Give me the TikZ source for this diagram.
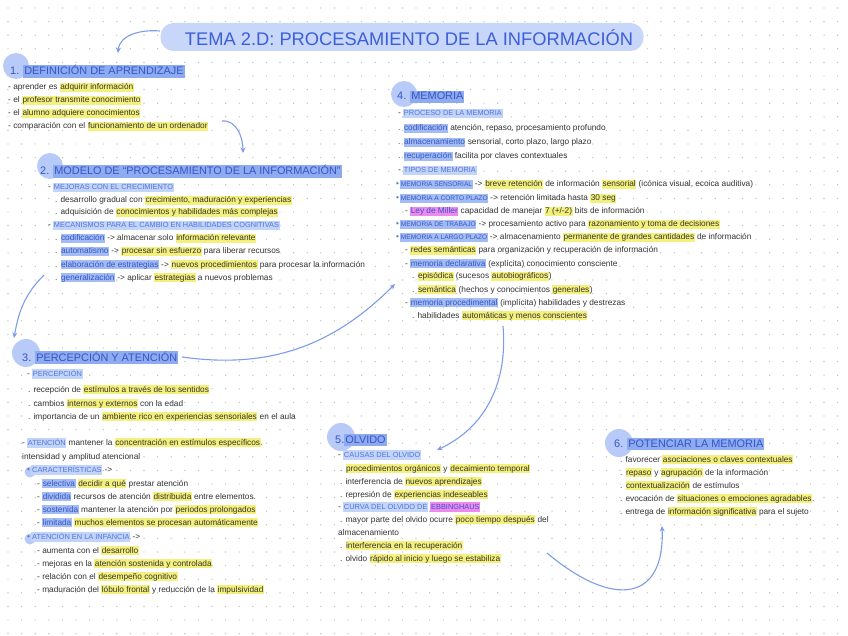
\documentclass[tikz,border=0pt]{standalone}
\usepackage{fontspec}
\setmainfont{Liberation Sans}
\usetikzlibrary{arrows.meta}
\definecolor{hly}{HTML}{F4F07C}
\definecolor{hlb}{HTML}{8FABF0}
\definecolor{hls}{HTML}{C3D4F9}
\definecolor{hlk}{HTML}{A3BCF3}
\definecolor{hlp}{HTML}{EE8AEE}
\definecolor{bodyc}{HTML}{333333}
\definecolor{hdrc}{HTML}{3555C8}
\definecolor{subc}{HTML}{5275DD}
\definecolor{circc}{HTML}{B8CAF7}
\definecolor{titlebg}{HTML}{C7D6F9}
\definecolor{titlec}{HTML}{3C5FD8}
\definecolor{arrc}{HTML}{7D9DE8}
\definecolor{dotc}{HTML}{BDBDBD}
\newcommand\hstr{\rule[-1.8pt]{0pt}{8pt}}
\newcommand\hy[1]{{\setlength{\fboxsep}{0.5pt}\colorbox{hly}{\hstr#1}}}
\newcommand\hk[1]{{\setlength{\fboxsep}{0.5pt}\colorbox{hlk}{\hstr\textcolor{hdrc}{#1}}}}
\newcommand\hkc[1]{{\setlength{\fboxsep}{0.5pt}\colorbox{hlk}{\hstr\fontsize{6.6}{8}\selectfont\textcolor{hdrc}{#1}}}}
\newcommand\hp[1]{{\setlength{\fboxsep}{0.5pt}\colorbox{hlp}{\hstr\textcolor{hdrc}{#1}}}}
\newcommand\hs[1]{{\setlength{\fboxsep}{0.7pt}\colorbox{hls}{\hstr\fontsize{7.4}{8}\selectfont\textcolor{subc}{#1}}}}
\newcommand\hpc[1]{{\setlength{\fboxsep}{0.7pt}\colorbox{hlp}{\hstr\fontsize{7.4}{8}\selectfont\textcolor{hdrc}{#1}}}}
\newcommand\hb[1]{{\setlength{\fboxsep}{1pt}\colorbox{hlb}{\rule[-2.3pt]{0pt}{10.5pt}#1}}}
\newcommand\bd{\textcolor{subc}{\textbullet}}
\newcommand\TL[4]{\node[txt] (#1) at (#2,#3) {#4};}
\newcommand\HD[4]{\node[hdr] (#1) at (#2,#3) {#4};}
\tikzset{
  txt/.style={anchor=base west, inner sep=0pt, text=bodyc, font=\fontsize{8.3}{10}\selectfont},
  hdr/.style={anchor=base west, inner sep=0pt, text=hdrc, font=\fontsize{10.9}{12}\selectfont},
  circ/.style={fill=circc, draw=none},
  conn/.style={draw=arrc, line width=1.1pt, -{Stealth[length=5.5pt,width=5pt]}}
}
\begin{document}
\begin{tikzpicture}[x=1pt,y=-1pt]
\useasboundingbox (0,0) rectangle (848,636);
\fill[white] (0,0) rectangle (848,636);
\foreach \i in {0,...,62}{\foreach \j in {0,...,46}{\fill[dotc] ({8+13.6*\i},{8+13.6*\j}) circle (0.7pt);}}
% title
\node[fill=titlebg, rounded corners=13pt, minimum width=483pt, minimum height=28pt, inner sep=0pt] (title) at (402,37) {};
\node[text=titlec, font=\fontsize{18.3}{20}\selectfont] (ttext) at (409,38) {TEMA 2.D: PROCESAMIENTO DE LA INFORMACIÓN};
% section 1
\fill[circ] (16,66) circle (13pt);
\HD{h1}{10}{75}{1. \hb{DEFINICIÓN DE APRENDIZAJE}}
\TL{a1}{8}{90}{- aprender es \hy{adquirir información}}
\TL{a2}{8}{103}{- el \hy{profesor transmite conocimiento}}
\TL{a3}{8}{116}{- el \hy{alumno adquiere conocimientos}}
\TL{a4}{8}{129}{- comparación con el \hy{funcionamiento de un ordenador}}
% section 2
\fill[circ] (50,166) circle (13pt);
\HD{h2}{40}{175}{2. \hb{MODELO DE “PROCESAMIENTO DE LA INFORMACIÓN”}}
\TL{b1}{48}{190}{- \hs{MEJORAS CON EL CRECIMIENTO}}
\TL{b2}{55}{203}{. desarrollo gradual con \hy{crecimiento, maduración y experiencias}}
\TL{b3}{55}{215}{. adquisición de \hy{conocimientos y habilidades más complejas}}
\TL{b4}{48}{228}{- \hs{MECANISMOS PARA EL CAMBIO EN HABILIDADES COGNITIVAS}}
\TL{b5}{55}{241}{. \hk{codificación} -> almacenar solo \hy{información relevante}}
\TL{b6}{55}{254}{. \hk{automatismo} -> \hy{procesar sin esfuerzo} para liberar recursos}
\TL{b7}{55}{267}{. \hk{elaboración de estrategias} -> \hy{nuevos procedimientos} para procesar la información}
\TL{b8}{55}{280}{. \hk{generalización} -> aplicar \hy{estrategias} a nuevos problemas}
% section 4
\fill[circ] (404,94) circle (13pt);
\HD{h4}{397}{100}{4. \hb{MEMORIA}}
\TL{d1}{398}{116}{- \hs{PROCESO DE LA MEMORIA}}
\TL{d2}{398}{131}{. \hk{codificación} atención, repaso, procesamiento profundo}
\TL{d3}{398}{145}{. \hk{almacenamiento} sensorial, corto plazo, largo plazo}
\TL{d4}{398}{159}{. \hk{recuperación} facilita por claves contextuales}
\TL{d5}{398}{173}{- \hs{TIPOS DE MEMORIA}}
\TL{d6}{396}{187}{\bd\,\hkc{MEMORIA SENSORIAL} -> \hy{breve retención} de información \hy{sensorial} (icónica visual, ecoica auditiva)}
\TL{d7}{396}{201}{\bd\,\hkc{MEMORIA A CORTO PLAZO} -> retención limitada hasta \hy{30 seg}}
\TL{d8}{405}{214}{- \hp{Ley de Miller} capacidad de manejar \hy{7 (+/-2)} bits de información}
\TL{d9}{396}{227}{\bd\,\hkc{MEMORIA DE TRABAJO} -> procesamiento activo para \hy{razonamiento y toma de decisiones}}
\TL{d10}{396}{240}{\bd\,\hkc{MEMORIA A LARGO PLAZO} -> almacenamiento \hy{permanente de grandes cantidades} de información}
\TL{d11}{405}{253}{- \hy{redes semánticas} para organización y recuperación de información}
\TL{d12}{405}{266}{- \hk{memoria declarativa} (explícita) conocimiento consciente}
\TL{d13}{412}{279}{. \hy{episódica} (sucesos \hy{autobiográficos})}
\TL{d14}{412}{292}{. \hy{semántica} (hechos y conocimientos \hy{generales})}
\TL{d15}{405}{305}{- \hk{memoria procedimental} (implícita) habilidades y destrezas}
\TL{d16}{412}{318}{. habilidades \hy{automáticas y menos conscientes}}
% section 3
\fill[circ] (26,353) circle (14pt);
\HD{h3}{22}{361}{3. \hb{PERCEPCIÓN Y ATENCIÓN}}
\TL{c1}{27}{376}{- \hs{PERCEPCIÓN}}
\TL{c2}{28}{392}{. recepción de \hy{estímulos a través de los sentidos}}
\TL{c3}{28}{406}{. cambios \hy{internos y externos} con la edad}
\TL{c4}{28}{419}{. importancia de un \hy{ambiente rico en experiencias sensoriales} en el aula}
\TL{c5}{22}{445}{- \hs{ATENCIÓN} mantener la \hy{concentración en estímulos específicos}.}
\TL{c6}{22}{459}{intensidad y amplitud atencional}
\fill[circ] (30,472) circle (5.5pt);
\TL{c7}{27}{472}{\bd\,\hs{CARACTERÍSTICAS} ->}
\TL{c8}{37}{486}{- \hk{selectiva} \hy{decidir a qué} prestar atención}
\TL{c9}{37}{499}{- \hk{dividida} recursos de atención \hy{distribuida} entre elementos.}
\TL{c10}{37}{512}{- \hk{sostenida} mantener la atención por \hy{periodos prolongados}}
\TL{c11}{37}{525}{- \hk{limitada} \hy{muchos elementos se procesan automáticamente}}
\fill[circ] (30,539) circle (5.5pt);
\TL{c12}{27}{539}{\bd\,\hs{ATENCIÓN EN LA INFANCIA} ->}
\TL{c13}{37}{553}{- aumenta con el \hy{desarrollo}}
\TL{c14}{37}{566}{- mejoras en la \hy{atención sostenida y controlada}}
\TL{c15}{37}{579}{- relación con el \hy{desempeño cognitivo}}
\TL{c16}{37}{592}{- maduración del \hy{lóbulo frontal} y reducción de la \hy{impulsividad}}
% section 5
\fill[circ] (341,437) circle (14pt);
\HD{h5}{335}{443}{5.\hb{OLVIDO}}
\TL{e1}{338}{457}{- \hs{CAUSAS DEL OLVIDO}}
\TL{e2}{340}{471}{. \hy{procedimientos orgánicos} y \hy{decaimiento temporal}}
\TL{e3}{340}{484}{. interferencia de \hy{nuevos aprendizajes}}
\TL{e4}{340}{497}{. represión de \hy{experiencias indeseables}}
\TL{e5}{338}{509}{- \hs{CURVA DEL OLVIDO DE} \hpc{EBBINGHAUS}}
\TL{e6}{340}{522}{. mayor parte del olvido ocurre \hy{poco tiempo después} del}
\TL{e7}{338}{535}{almacenamiento}
\TL{e8}{340}{548}{. \hy{interferencia en la recuperación}}
\TL{e9}{340}{561}{. olvido \hy{rápido al inicio y luego se estabiliza}}
% section 6
\fill[circ] (619,443) circle (14pt);
\HD{h6}{614}{447}{6. \hb{POTENCIAR LA MEMORIA}}
\TL{f1}{620}{462}{. favorecer \hy{asociaciones o claves contextuales}}
\TL{f2}{620}{475}{. \hy{repaso} y \hy{agrupación} de la información}
\TL{f3}{620}{488}{. \hy{contextualización} de estímulos}
\TL{f4}{620}{501}{. evocación de \hy{situaciones o emociones agradables}.}
\TL{f5}{620}{514}{. entrega de \hy{información significativa} para el sujeto}
% connectors
\coordinate (p0) at (160,31);
\coordinate (p1) at (118,53);
\coordinate (q0) at (222,121);
\coordinate (q1) at (243,153);
\coordinate (r0) at (44,275);
\coordinate (r1) at (14,338);
\coordinate (s0) at (182,357);
\coordinate (s1) at (395,284);
\coordinate (t0) at (503,326);
\coordinate (t1) at (437,450);
\coordinate (u0) at (547,553);
\coordinate (u1) at (662,526);
\draw[conn] (p0) to[out=175,in=85] (p1);
\draw[conn] (q0) to[out=5,in=90] (q1);
\draw[conn] (r0) to[out=225,in=80] (r1);
\draw[conn] (s0) to[out=-8,in=225] (s1);
\draw[conn] (t0) to[out=-85,in=25] (t1);
\draw[conn] (u0) .. controls (615,610) and (665,600) .. (u1);
\end{tikzpicture}
\end{document}
